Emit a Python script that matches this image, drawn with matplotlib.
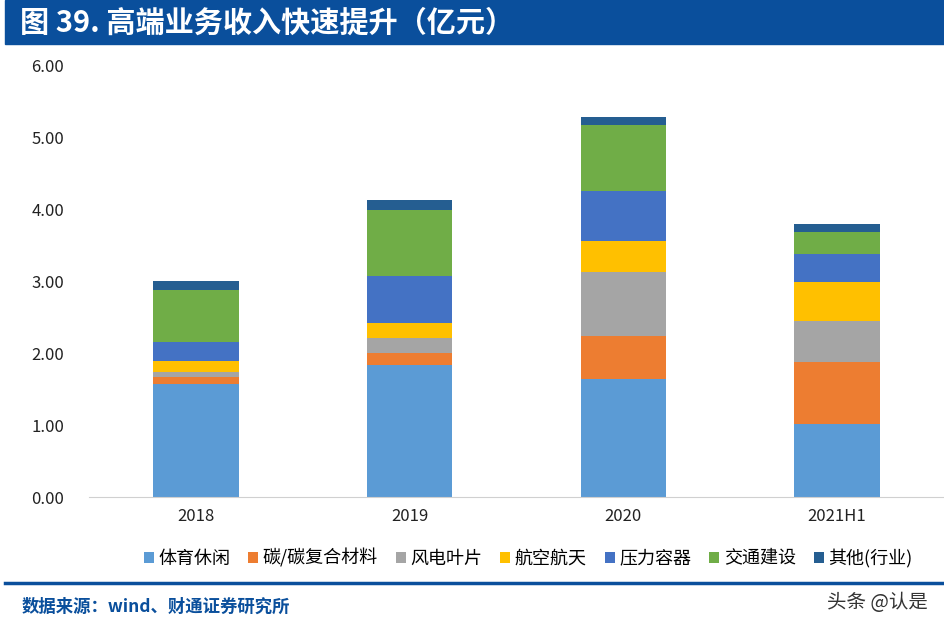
import numpy as np
import matplotlib.pyplot as plt
from matplotlib.patches import Rectangle
from matplotlib.lines import Line2D

plt.rcParams['font.family'] = ['Noto Sans CJK SC', 'DejaVu Sans']

# data (亿元)
years = ['2018', '2019', '2020', '2021H1']
series_names = ['体育休闲', '碳/碳复合材料', '风电叶片', '航空航天', '压力容器', '交通建设', '其他(行业)']
sport = [1.57, 1.84, 1.645, 1.02]
carbon = [0.09, 0.16, 0.595, 0.86]
wind = [0.08, 0.21, 0.88, 0.565]
aero = [0.15, 0.21, 0.435, 0.535]
pressure = [0.26, 0.65, 0.69, 0.40]
transport = [0.72, 0.91, 0.925, 0.305]
other = [0.135, 0.145, 0.11, 0.105]

colors = ['#5B9BD5', '#ED7D31', '#A5A5A5', '#FFC000', '#4472C4', '#70AD47', '#255E91']
data = [sport, carbon, wind, aero, pressure, transport, other]

fig = plt.figure(figsize=(9.44, 6.33), dpi=100)

# title bar
fig.patches.append(Rectangle((5/944, 1 - 44/633), 1, 44/633, transform=fig.transFigure,
                             color='#0A4F9C', zorder=0))
fig.text(20/944, 1 - 23/633, '图 39. 高端业务收入快速提升（亿元）', color='white',
         fontsize=21, fontweight='bold', va='center', ha='left')

ax = fig.add_axes([89/944, 136/633, 855/944, 432/633])
x = np.arange(len(years))
bottom = np.zeros(len(years))
for vals, name, c in zip(data, series_names, colors):
    ax.bar(x, vals, width=0.4, bottom=bottom, color=c, label=name)
    bottom += np.array(vals)

ax.set_xlim(-0.5, 3.5)
ax.set_ylim(0, 6)
ax.set_yticks(np.arange(0, 7, 1))
ax.set_yticklabels(['%.2f' % v for v in np.arange(0, 7, 1)])
ax.set_xticks(x)
ax.set_xticklabels(years)
ax.tick_params(axis='both', length=0, labelsize=12, colors='#222222')
ax.tick_params(axis='y', pad=18)
ax.tick_params(axis='x', pad=8)
for s in ['top', 'right', 'left']:
    ax.spines[s].set_visible(False)
ax.spines['bottom'].set_color('#D0D0D0')

handles, labels = ax.get_legend_handles_labels()
fig.legend(handles, labels, loc='center', bbox_to_anchor=(528/944, 1 - 558/633), ncol=7,
           frameon=False, fontsize=13, handlelength=0.55, handleheight=0.55,
           handletextpad=0.25, columnspacing=1.0)

# footer
fig.lines.append(Line2D([5/944, 1], [1 - 583/633, 1 - 583/633], transform=fig.transFigure,
                        color='#0A4F9C', linewidth=2.5))
fig.text(22/944, 1 - 607/633, '数据来源：wind、财通证券研究所', color='#0A4F9C',
         fontsize=12.5, fontweight='bold', va='center', ha='left')
fig.text(928/944, 1 - 603/633, '头条 @认是', color='#333333',
         fontsize=14, va='center', ha='right')

fig.savefig('out.png', dpi=100)
